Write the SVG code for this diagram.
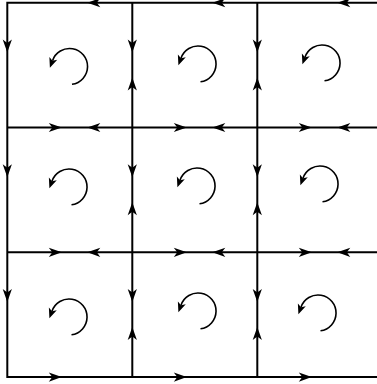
<svg xmlns="http://www.w3.org/2000/svg" width="377" height="384" viewBox="0 0 377 384">
<style>
.ln{stroke:#000;stroke-width:2;fill:none;stroke-linecap:square}
.ah{fill:#000}
.arc{stroke:#000;stroke-width:1.6;fill:none}
</style>
<defs>
<path id="ah" class="ah" d="M0,0 L-13,-4.6 L-9.5,0 L-13,4.6 Z"/>
<g id="rot">
<path class="arc" d="M2.5,17.8 A18,18 0 1 0 -17,-5.8"/>
<path class="ah" d="M0,0 L-10,-4.2 L-7.5,0 L-10,4.2 Z" transform="translate(-19.6,1.3) rotate(110)"/>
</g>
</defs>
<rect width="377" height="384" fill="#fff"/>
<g id="connectors">
<path class="ln" d="M7.3,2.7H380 M7.3,127.5H380 M7.3,252.3H380 M7.3,377.1H380 M7.3,2.7V377.1 M132.3,2.7V377.1 M257.3,2.7V377.1"/>
<!-- top edges (leftward) -->
<use href="#ah" transform="translate(87.3,2.7) rotate(180)"/>
<use href="#ah" transform="translate(212.3,2.7) rotate(180)"/>
<use href="#ah" transform="translate(337.3,2.7) rotate(180)"/>
<use href="#ah" transform="translate(87.3,127.5) rotate(180)"/>
<use href="#ah" transform="translate(212.3,127.5) rotate(180)"/>
<use href="#ah" transform="translate(337.3,127.5) rotate(180)"/>
<use href="#ah" transform="translate(87.3,252.3) rotate(180)"/>
<use href="#ah" transform="translate(212.3,252.3) rotate(180)"/>
<use href="#ah" transform="translate(337.3,252.3) rotate(180)"/>
<!-- bottom edges (rightward) -->
<use href="#ah" transform="translate(61.8,127.5)"/>
<use href="#ah" transform="translate(186.8,127.5)"/>
<use href="#ah" transform="translate(311.8,127.5)"/>
<use href="#ah" transform="translate(61.8,252.3)"/>
<use href="#ah" transform="translate(186.8,252.3)"/>
<use href="#ah" transform="translate(311.8,252.3)"/>
<use href="#ah" transform="translate(61.8,377.1)"/>
<use href="#ah" transform="translate(186.8,377.1)"/>
<use href="#ah" transform="translate(311.8,377.1)"/>
<!-- left edges (downward) -->
<use href="#ah" transform="translate(7.3,52.5) rotate(90)"/>
<use href="#ah" transform="translate(132.3,52.5) rotate(90)"/>
<use href="#ah" transform="translate(257.3,52.5) rotate(90)"/>
<use href="#ah" transform="translate(7.3,177.3) rotate(90)"/>
<use href="#ah" transform="translate(132.3,177.3) rotate(90)"/>
<use href="#ah" transform="translate(257.3,177.3) rotate(90)"/>
<use href="#ah" transform="translate(7.3,302.1) rotate(90)"/>
<use href="#ah" transform="translate(132.3,302.1) rotate(90)"/>
<use href="#ah" transform="translate(257.3,302.1) rotate(90)"/>
<!-- right edges (upward) -->
<use href="#ah" transform="translate(132.3,77.5) rotate(-90)"/>
<use href="#ah" transform="translate(257.3,77.5) rotate(-90)"/>
<use href="#ah" transform="translate(132.3,202.3) rotate(-90)"/>
<use href="#ah" transform="translate(257.3,202.3) rotate(-90)"/>
<use href="#ah" transform="translate(132.3,327.1) rotate(-90)"/>
<use href="#ah" transform="translate(257.3,327.1) rotate(-90)"/>
</g>
<g id="cell-0-0"><use href="#rot" transform="translate(69.5,66.5)"/></g>
<g id="cell-1-0"><use href="#rot" transform="translate(198,64)"/></g>
<g id="cell-2-0"><use href="#rot" transform="translate(322,63)"/></g>
<g id="cell-0-1"><use href="#rot" transform="translate(69,187)"/></g>
<g id="cell-1-1"><use href="#rot" transform="translate(197,186)"/></g>
<g id="cell-2-1"><use href="#rot" transform="translate(320,184)"/></g>
<g id="cell-0-2"><use href="#rot" transform="translate(69,317)"/></g>
<g id="cell-1-2"><use href="#rot" transform="translate(198,311)"/></g>
<g id="cell-2-2"><use href="#rot" transform="translate(318,313)"/></g>
</svg>
